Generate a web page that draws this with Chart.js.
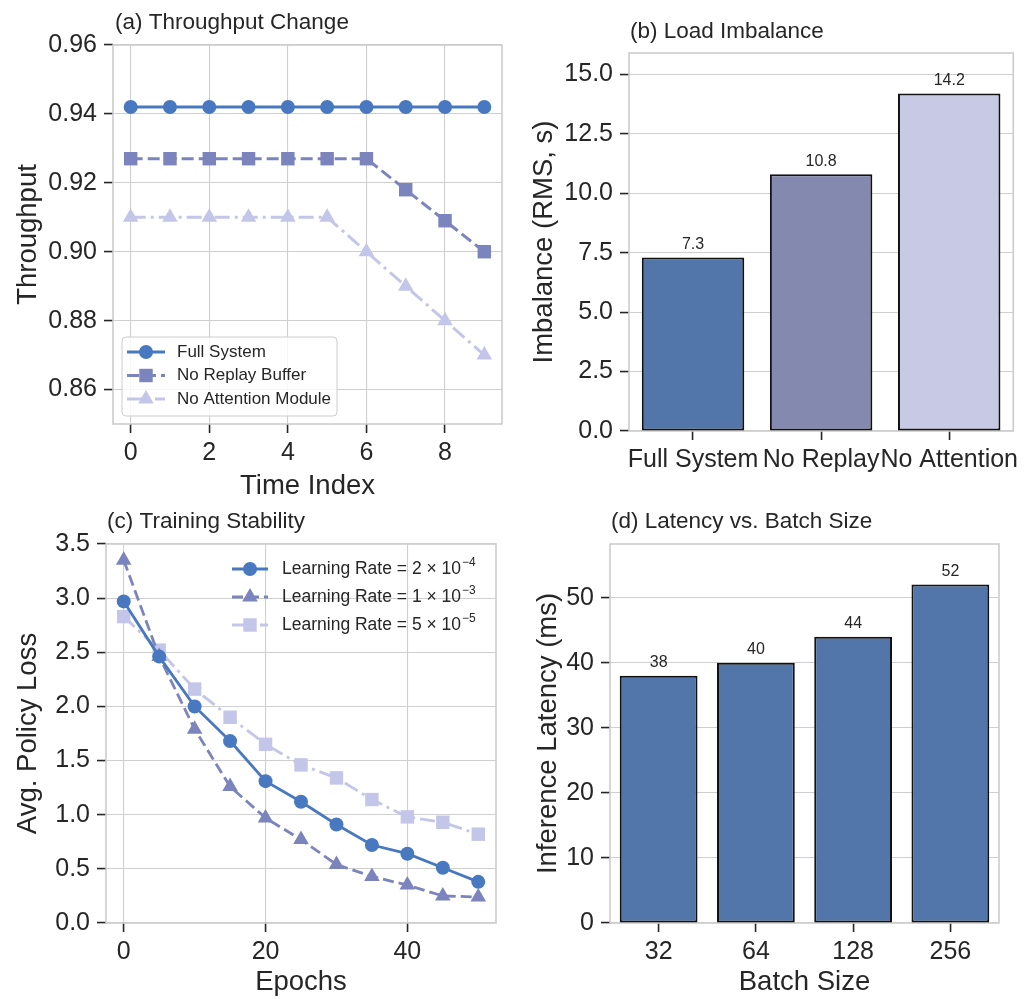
<!DOCTYPE html>
<html>
<head>
<meta charset="utf-8">
<script src="https://cdn.jsdelivr.net/npm/chart.js@4.4.1/dist/chart.umd.min.js"></script>
<style>
html,body{margin:0;padding:0;background:#ffffff;}
#wrap{position:relative;width:1024px;height:999px;overflow:hidden;}
canvas{position:absolute;}
</style>
</head>
<body>
<div id="wrap">
  <canvas id="ca" width="512" height="500" style="left:0;top:0"></canvas>
  <canvas id="cb" width="512" height="500" style="left:512px;top:0"></canvas>
  <canvas id="cc" width="512" height="499" style="left:0;top:500px"></canvas>
  <canvas id="cd" width="512" height="499" style="left:512px;top:500px"></canvas>
</div>
<script>
// ---------- DATA ----------
// (a) Throughput Change
const timeIndex = [0, 1, 2, 3, 4, 5, 6, 7, 8, 9];
const thrFullSystem = [0.942, 0.942, 0.942, 0.942, 0.942, 0.942, 0.942, 0.942, 0.942, 0.942];
const thrNoReplay = [0.927, 0.927, 0.927, 0.927, 0.927, 0.927, 0.927, 0.918, 0.909, 0.900];
const thrNoAttention = [0.910, 0.910, 0.910, 0.910, 0.910, 0.910, 0.900, 0.890, 0.880, 0.870];
const thrSeriesNames = ['Full System', 'No Replay Buffer', 'No Attention Module'];
const thrYTicks = [0.86, 0.88, 0.90, 0.92, 0.94, 0.96];
const thrXTicks = [0, 2, 4, 6, 8];

// (b) Load Imbalance
const imbCategories = ['Full System', 'No Replay', 'No Attention'];
const imbValues = [7.3, 10.8, 14.2];
const imbYTicks = [0, 2.5, 5, 7.5, 10, 12.5, 15];

// (c) Training Stability
const epochs = [0, 5, 10, 15, 20, 25, 30, 35, 40, 45, 50];
const lossLR2e4 = [2.97, 2.46, 2.00, 1.68, 1.31, 1.12, 0.91, 0.72, 0.64, 0.51, 0.38];
const lossLR1e3 = [3.35, 2.46, 1.79, 1.26, 0.97, 0.77, 0.54, 0.43, 0.35, 0.25, 0.24];
const lossLR5e5 = [2.83, 2.52, 2.16, 1.90, 1.65, 1.46, 1.34, 1.14, 0.98, 0.93, 0.82];
const lossSeriesNames = ['Learning Rate = 2 × 10⁻⁴', 'Learning Rate = 1 × 10⁻³', 'Learning Rate = 5 × 10⁻⁵'];
const lossYTicks = [0, 0.5, 1.0, 1.5, 2.0, 2.5, 3.0, 3.5];
const epochXTicks = [0, 20, 40];

// (d) Latency vs. Batch Size
const batchSizes = ['32', '64', '128', '256'];
const latencyValues = [38, 40, 44, 52];
const latYTicks = [0, 10, 20, 30, 40, 50];

// ---------- STYLE ----------
const FONT = "'Liberation Sans', Arial, Helvetica, sans-serif";
const TXT = '#262626';
const GRID = '#cfcfcf';
const C1 = '#4878bf', C2 = '#7b84bc', C3 = '#c3c6e8';
const BAR1 = '#5276a9', BAR2 = '#8489b0', BAR3 = '#c8c9e4';

// ---------- HELPERS ----------
function drawMarker(ctx, style, x, y, r, color) {
  ctx.save();
  ctx.fillStyle = color;
  ctx.beginPath();
  if (style === 'circle') {
    ctx.arc(x, y, r, 0, Math.PI * 2);
  } else if (style === 'rect') {
    const h = r * Math.SQRT1_2;
    ctx.rect(x - h, y - h, 2 * h, 2 * h);
  } else if (style === 'triangle') {
    ctx.moveTo(x, y - r);
    ctx.lineTo(x + r * 0.8660254, y + r * 0.5);
    ctx.lineTo(x - r * 0.8660254, y + r * 0.5);
    ctx.closePath();
  }
  ctx.fill();
  ctx.restore();
}

const SUP = {'⁻':'−','⁰':'0','¹':'1','²':'2','³':'3','⁴':'4','⁵':'5','⁶':'6','⁷':'7','⁸':'8','⁹':'9'};

const framePlugin = {
  id: 'frame',
  beforeDatasetsDraw(chart) {
    const {left, top, right, bottom} = chart.chartArea;
    const ctx = chart.ctx;
    ctx.save();
    ctx.strokeStyle = '#cccccc';
    ctx.lineWidth = 1.6;
    ctx.strokeRect(left, top, right - left, bottom - top);
    ctx.restore();
  }
};

const panelTitlePlugin = {
  id: 'panelTitle',
  afterDraw(chart, args, opts) {
    if (!opts || !opts.text) return;
    const ctx = chart.ctx;
    ctx.save();
    ctx.font = `${opts.size}px ${FONT}`;
    ctx.fillStyle = TXT;
    ctx.textAlign = 'left';
    ctx.textBaseline = 'alphabetic';
    ctx.fillText(opts.text, chart.chartArea.left + opts.dx, chart.chartArea.top - opts.dy);
    ctx.restore();
  }
};

const insideLegendPlugin = {
  id: 'insideLegend',
  afterDraw(chart, args, opts) {
    if (!opts || !opts.enabled) return;
    const ctx = chart.ctx;
    ctx.save();
    if (opts.frame) {
      const f = opts.frame;
      ctx.beginPath();
      ctx.roundRect(f.x, f.y, f.w, f.h, 4);
      ctx.fillStyle = 'rgba(255,255,255,0.8)';
      ctx.fill();
      ctx.strokeStyle = '#cccccc';
      ctx.lineWidth = 1;
      ctx.stroke();
    }
    chart.data.datasets.forEach((ds, i) => {
      const y = opts.y + i * opts.rowH;
      ctx.save();
      ctx.strokeStyle = ds.borderColor;
      ctx.lineWidth = ds.borderWidth;
      ctx.setLineDash(ds.borderDash || []);
      ctx.beginPath();
      ctx.moveTo(opts.x, y);
      ctx.lineTo(opts.x + opts.sampleW, y);
      ctx.stroke();
      ctx.restore();
      drawMarker(ctx, ds.pointStyle, opts.x + opts.sampleW / 2, y, ds.pointRadius, ds.borderColor);
      const label = ds.label;
      const m = label.match(/^(.*?)([⁻⁰¹²³⁴⁵⁶⁷⁸⁹]+)$/);
      ctx.fillStyle = TXT;
      ctx.textBaseline = 'middle';
      ctx.textAlign = 'left';
      ctx.font = `${opts.size}px ${FONT}`;
      if (m) {
        ctx.fillText(m[1], opts.textX, y);
        const w = ctx.measureText(m[1]).width;
        const sup = m[2].split('').map(c => SUP[c] || c).join('');
        ctx.font = `${Math.round(opts.size * 0.7)}px ${FONT}`;
        ctx.fillText(sup, opts.textX + w + 1, y - opts.size * 0.38);
      } else {
        ctx.fillText(label, opts.textX, y);
      }
    });
    ctx.restore();
  }
};

const barLabelPlugin = {
  id: 'barLabels',
  afterDatasetsDraw(chart, args, opts) {
    if (!opts || !opts.enabled) return;
    const ctx = chart.ctx;
    ctx.save();
    ctx.font = `${opts.size}px ${FONT}`;
    ctx.fillStyle = TXT;
    ctx.textAlign = 'center';
    ctx.textBaseline = 'bottom';
    chart.data.datasets.forEach((ds, di) => {
      chart.getDatasetMeta(di).data.forEach((el, i) => {
        const v = ds.data[i];
        ctx.fillText(opts.decimals ? v.toFixed(opts.decimals) : String(v), el.x, el.y - opts.gap);
      });
    });
    ctx.restore();
  }
};

Chart.register(framePlugin, panelTitlePlugin, insideLegendPlugin, barLabelPlugin);

function gridCfg(onArea) {
  return {display: true, drawOnChartArea: onArea, color: GRID, lineWidth: 1.1,
          tickColor: TXT, tickWidth: 1.6, tickLength: 9, drawTicks: true, offset: false};
}
function tickFont() { return {family: FONT, size: 25}; }
function titleCfg(text, pad) {
  return {display: !!text, text: text, color: TXT, font: {family: FONT, size: 27.5, lineHeight: 1}, padding: pad};
}
function linearY(min, max, values, fmt, width, title, titlePad) {
  return {
    type: 'linear', position: 'left', min: min, max: max,
    afterBuildTicks: s => { s.ticks = values.map(v => ({value: v})); },
    afterFit: s => { s.width = width; },
    grid: gridCfg(true),
    border: {display: false},
    ticks: {color: TXT, font: tickFont(), padding: 7, callback: v => fmt(v)},
    title: titleCfg(title, {top: titlePad, bottom: 0})
  };
}
function linearX(min, max, values, height, title, titlePad) {
  return {
    type: 'linear', position: 'bottom', min: min, max: max,
    afterBuildTicks: s => { s.ticks = values.map(v => ({value: v})); },
    afterFit: s => { s.height = height; },
    grid: gridCfg(true),
    border: {display: false},
    ticks: {color: TXT, font: tickFont(), padding: 5, maxRotation: 0, minRotation: 0, callback: v => String(v)},
    title: titleCfg(title, {top: 0, bottom: titlePad})
  };
}
function categoryX(height, title, titlePad) {
  return {
    type: 'category', position: 'bottom', offset: true,
    afterFit: s => { s.height = height; },
    grid: gridCfg(false),
    border: {display: false},
    ticks: {color: TXT, font: tickFont(), padding: 5, maxRotation: 0, minRotation: 0, autoSkip: false},
    title: titleCfg(title, {top: 0, bottom: titlePad})
  };
}
function lineDS(label, xs, ys, color, dash, style, radius, width) {
  return {
    label: label, data: xs.map((x, i) => ({x: x, y: ys[i]})),
    borderColor: color, backgroundColor: color, borderWidth: width, borderDash: dash,
    pointStyle: style, pointRadius: radius, pointHoverRadius: radius,
    pointBorderWidth: 0, pointBackgroundColor: color, tension: 0, fill: false
  };
}
const baseOpts = {responsive: false, animation: false, devicePixelRatio: 1, events: []};

// ---------- (a) ----------
new Chart(document.getElementById('ca'), {
  type: 'line',
  data: {datasets: [
    lineDS(thrSeriesNames[0], timeIndex, thrFullSystem, C1, [], 'circle', 7, 3),
    lineDS(thrSeriesNames[1], timeIndex, thrNoReplay, C2, [12, 5], 'rect', 9.5, 3),
    lineDS(thrSeriesNames[2], timeIndex, thrNoAttention, C3, [15, 5, 3, 5], 'triangle', 9, 3)
  ]},
  options: Object.assign({}, baseOpts, {
    layout: {padding: {top: 45, right: 10, left: 0, bottom: 0}},
    scales: {
      x: linearX(-0.45, 9.45, thrXTicks, 76, 'Time Index', 0),
      y: linearY(0.85, 0.96, thrYTicks, v => v.toFixed(2), 113, 'Throughput', 14.5)
    },
    plugins: {
      legend: {display: false}, tooltip: {enabled: false},
      panelTitle: {text: '(a) Throughput Change', size: 22.5, dx: 2, dy: 16},
      insideLegend: {enabled: true, x: 127, y: 352, rowH: 23.5, sampleW: 38, textX: 177, size: 17,
                     frame: {x: 122, y: 337, w: 215, h: 79}}
    }
  })
});

// ---------- (b) ----------
new Chart(document.getElementById('cb'), {
  type: 'bar',
  data: {labels: imbCategories, datasets: [{
    label: 'Imbalance', data: imbValues,
    backgroundColor: [BAR1, BAR2, BAR3], borderColor: '#111111', borderWidth: 2,
    borderSkipped: false, categoryPercentage: 1.0, barPercentage: 0.8
  }]},
  options: Object.assign({}, baseOpts, {
    layout: {padding: {top: 53, right: 6, left: 0, bottom: 0}},
    scales: {
      x: categoryX(69, '', 0),
      y: linearY(0, 15.904, imbYTicks, v => v.toFixed(1), 117, 'Imbalance (RMS, s)', 18.5)
    },
    plugins: {
      legend: {display: false}, tooltip: {enabled: false},
      panelTitle: {text: '(b) Load Imbalance', size: 22.5, dx: 1, dy: 15.5},
      barLabels: {enabled: true, size: 16, gap: 5, decimals: 1}
    }
  })
});

// ---------- (c) ----------
new Chart(document.getElementById('cc'), {
  type: 'line',
  data: {datasets: [
    lineDS(lossSeriesNames[0], epochs, lossLR2e4, C1, [], 'circle', 7, 2.8),
    lineDS(lossSeriesNames[1], epochs, lossLR1e3, C2, [11, 5], 'triangle', 9, 2.8),
    lineDS(lossSeriesNames[2], epochs, lossLR5e5, C3, [15, 5, 3, 5], 'rect', 9.5, 2.8)
  ]},
  options: Object.assign({}, baseOpts, {
    layout: {padding: {top: 44, right: 16, left: 0, bottom: 0}},
    scales: {
      x: linearX(-2.5, 52.5, epochXTicks, 76, 'Epochs', 2.5),
      y: linearY(0, 3.5, lossYTicks, v => v.toFixed(1), 106, 'Avg. Policy Loss', 14.5)
    },
    plugins: {
      legend: {display: false}, tooltip: {enabled: false},
      panelTitle: {text: '(c) Training Stability', size: 22.5, dx: 1, dy: 16},
      insideLegend: {enabled: true, x: 232, y: 69, rowH: 28, sampleW: 36, textX: 282, size: 17.5}
    }
  })
});

// ---------- (d) ----------
new Chart(document.getElementById('cd'), {
  type: 'bar',
  data: {labels: batchSizes, datasets: [{
    label: 'Latency', data: latencyValues,
    backgroundColor: BAR1, borderColor: '#111111', borderWidth: 2,
    borderSkipped: false, categoryPercentage: 1.0, barPercentage: 0.8
  }]},
  options: Object.assign({}, baseOpts, {
    layout: {padding: {top: 44, right: 25, left: 0, bottom: 0}},
    scales: {
      x: categoryX(76, 'Batch Size', 2.5),
      y: linearY(0, 58.24, latYTicks, v => String(v), 98, 'Inference Latency (ms)', 22.5)
    },
    plugins: {
      legend: {display: false}, tooltip: {enabled: false},
      panelTitle: {text: '(d) Latency vs. Batch Size', size: 22.5, dx: 1, dy: 16},
      barLabels: {enabled: true, size: 16, gap: 5, decimals: 0}
    }
  })
});
</script>
</body>
</html>
